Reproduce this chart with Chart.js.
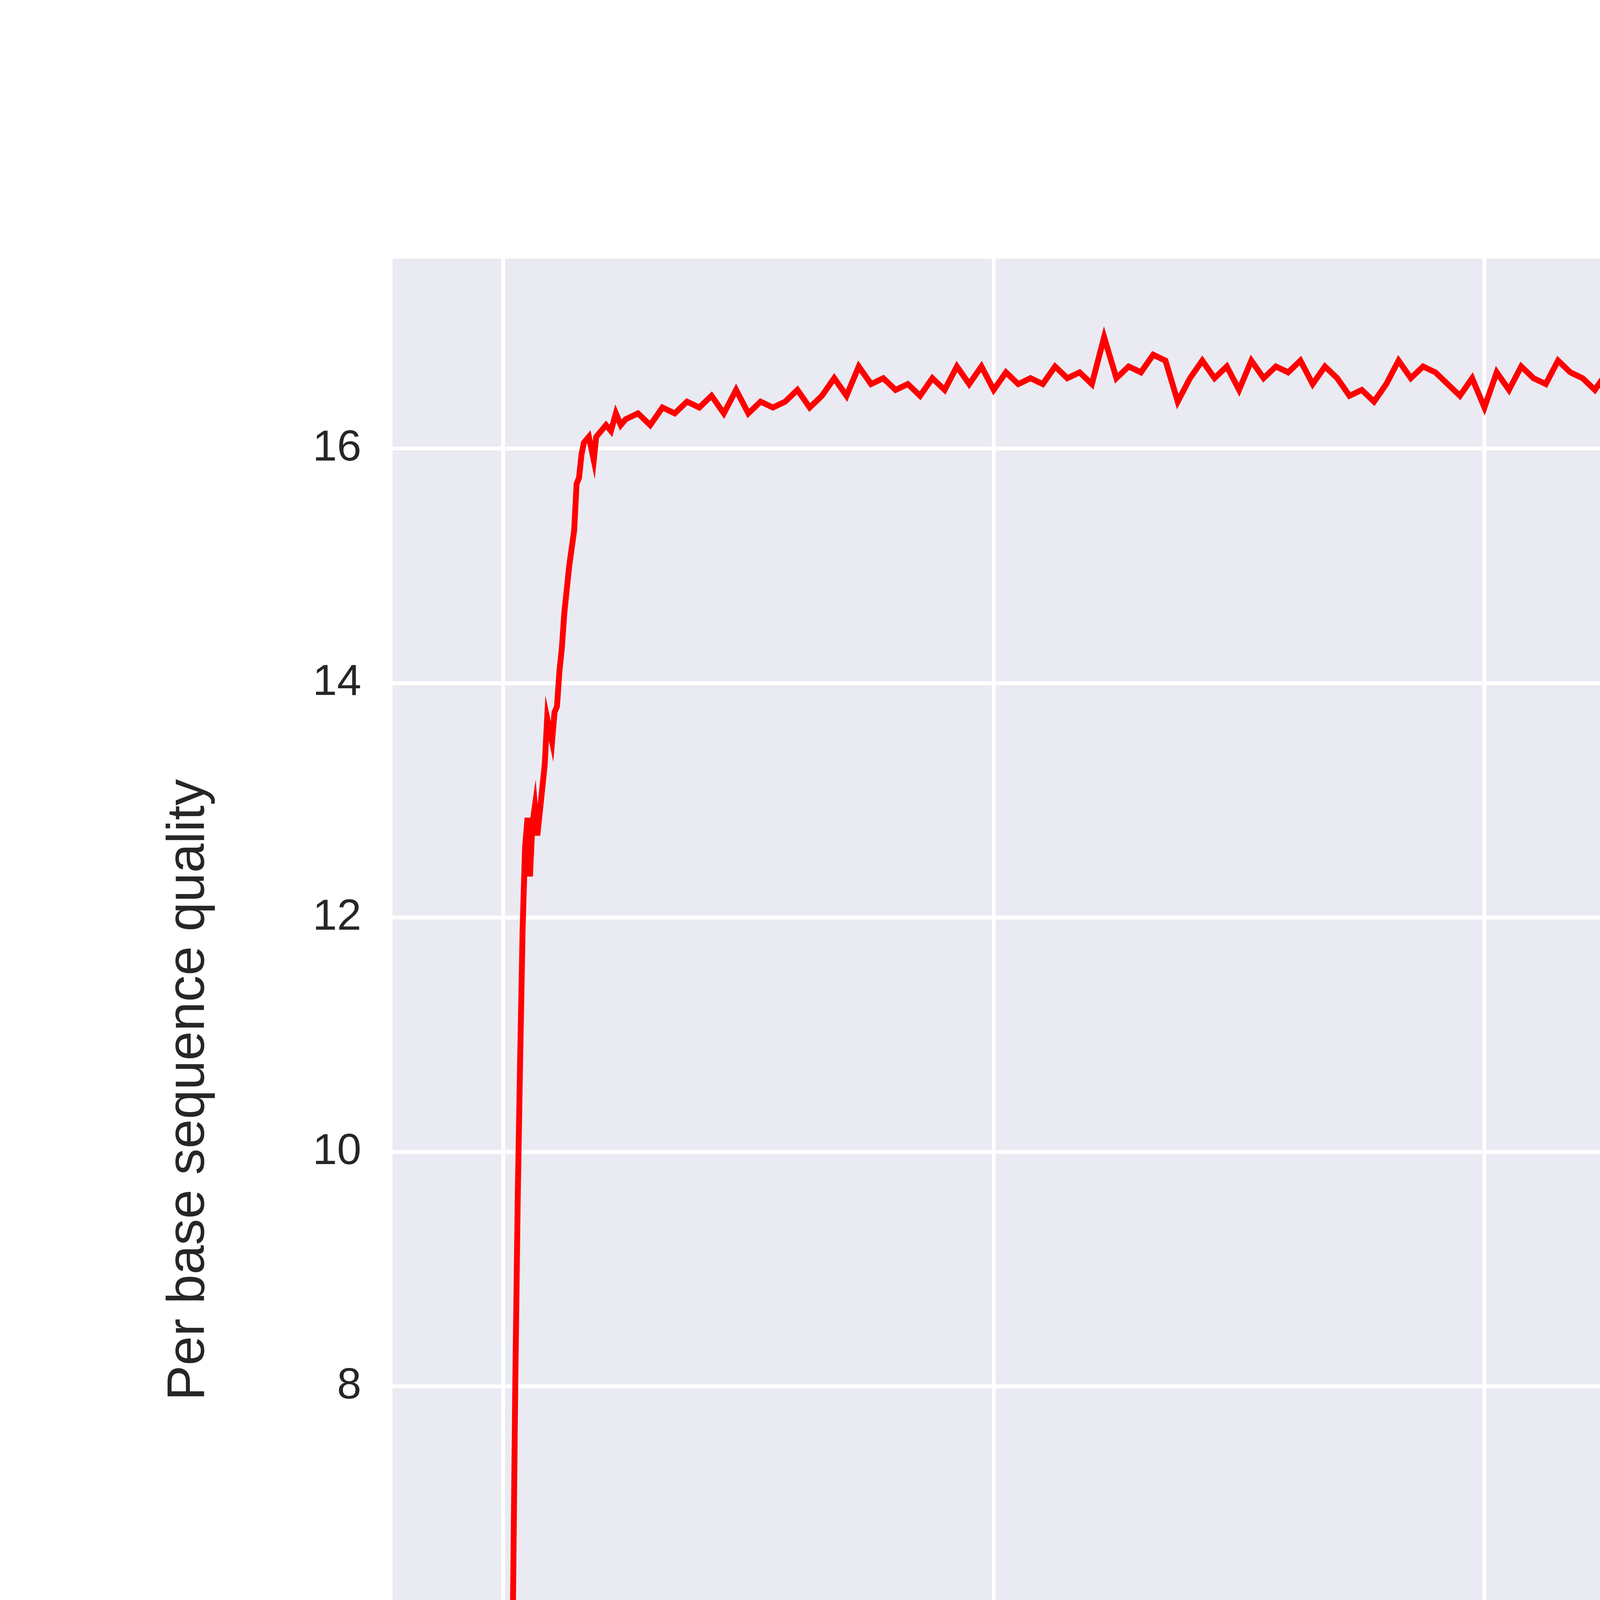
<!DOCTYPE html>
<html>
<head>
<meta charset="utf-8">
<script src="https://cdn.jsdelivr.net/npm/chart.js@4"></script>
<style>
  html, body { margin: 0; padding: 0; background: #fff; }
  #wrap { width: 8000px; height: 5500px; }
</style>
</head>
<body>
<div id="wrap"><canvas id="qualityChart"></canvas></div>
<script>
// position in read (x) and per base sequence quality (y)
const positions = [
    0, 1, 2, 3, 4, 5, 6, 7, 8, 9, 10, 11, 12, 13, 14, 15, 17, 18, 19, 20,
    21, 22, 23, 24, 25, 27, 29, 30, 31, 32, 33, 35, 37, 38, 40, 42, 44, 46, 48,
    50, 55, 60, 65, 70, 75, 80, 85, 90, 95,
    100, 105, 110, 115, 120, 125, 130, 135, 140, 145,
    150, 155, 160, 165, 170, 175, 180, 185, 190, 195,
    200, 205, 210, 215, 220, 225, 230, 235, 240, 245,
    250, 255, 260, 265, 270, 275, 280, 285, 290, 295,
    300, 305, 310, 315, 320, 325, 330, 335, 340, 345,
    350, 355, 360, 365, 370, 375, 380, 385, 390, 395,
    400, 405, 410, 415, 420, 425, 430, 435, 440, 445,
    450, 455, 460, 465, 470, 475, 480, 485, 490, 495,
    500, 505, 510, 515, 520, 525, 530, 535, 540, 545,
    550, 555, 560, 565, 570, 575, 580, 585, 590, 595,
    600, 605, 610, 615, 620, 625, 630, 635, 640, 645,
    650, 655, 660, 665, 670, 675, 680, 685, 690, 695,
    700, 705, 710, 715, 720, 725, 730, 735, 740, 745,
    750, 755, 760, 765, 770, 775, 780, 785, 790, 795,
    800, 805, 810, 815, 820, 825, 830, 835, 840, 845,
    850, 855, 860, 865, 870, 875, 880, 885, 890, 895,
    900
];
const quality = [
    4.1, 4.1, 4.9, 5.6, 6.0, 8.0, 9.6, 10.8, 11.9, 12.6, 12.85, 12.35, 12.8, 12.95, 12.7, 12.9, 13.3, 13.7, 13.6, 13.5,
    13.75, 13.8, 14.1, 14.3, 14.6, 15.0, 15.3, 15.7, 15.75, 15.95, 16.05, 16.1, 15.9, 16.1, 16.15, 16.2, 16.15, 16.3, 16.2,
    16.25, 16.3, 16.2, 16.35, 16.3, 16.4, 16.35, 16.45, 16.3, 16.5,
    16.3, 16.4, 16.35, 16.4, 16.5, 16.35, 16.45, 16.6, 16.45, 16.7,
    16.55, 16.6, 16.5, 16.55, 16.45, 16.6, 16.5, 16.7, 16.55, 16.7,
    16.5, 16.65, 16.55, 16.6, 16.55, 16.7, 16.6, 16.65, 16.55, 16.95,
    16.6, 16.7, 16.65, 16.8, 16.75, 16.4, 16.6, 16.75, 16.6, 16.7,
    16.5, 16.75, 16.6, 16.7, 16.65, 16.75, 16.55, 16.7, 16.6, 16.45,
    16.5, 16.4, 16.55, 16.75, 16.6, 16.7, 16.65, 16.55, 16.45, 16.6,
    16.35, 16.65, 16.5, 16.7, 16.6, 16.55, 16.75, 16.65, 16.6, 16.5,
    16.65, 16.45, 16.6, 16.5, 16.65, 16.45, 16.55, 16.75, 16.6, 16.65,
    16.55, 16.6, 16.4, 16.55, 16.6, 16.5, 16.7, 16.45, 16.75, 16.6,
    16.65, 16.6, 16.75, 16.7, 16.85, 16.6, 16.7, 16.5, 16.6, 16.55,
    16.7, 16.6, 16.75, 16.5, 16.65, 16.6, 16.7, 16.55, 16.6, 16.7,
    16.55, 16.6, 16.7, 16.55, 16.6, 16.55, 16.65, 16.6, 16.55, 16.65,
    16.6, 16.7, 16.6, 16.5, 16.55, 16.45, 16.6, 16.5, 16.7, 16.55,
    16.6, 16.5, 16.65, 16.55, 16.45, 16.6, 16.5, 16.55, 16.45, 16.6,
    16.55, 16.6, 16.45, 16.55, 16.5, 16.35, 16.6, 16.5, 16.4, 16.45,
    16.35, 16.4, 16.5, 16.45, 16.55, 16.5, 16.45, 16.6, 16.5, 16.45,
    16.3
];
const xTicks = [0, 200, 400, 600, 800];
const yTicks = [4, 6, 8, 10, 12, 14, 16];

const points = positions.map((p, i) => ({ x: p, y: quality[i] }));

const plotBackground = {
    id: 'plotBackground',
    beforeDraw(chart) {
        const { ctx, chartArea: a } = chart;
        ctx.save();
        ctx.fillStyle = '#EAEAF2';
        ctx.fillRect(a.left, a.top, a.right - a.left, a.bottom - a.top);
        ctx.restore();
    }
};

const tickFont = { family: 'Liberation Sans', size: 112 };
const titleFont = { family: 'Liberation Sans', size: 135 };

new Chart(document.getElementById('qualityChart'), {
    type: 'line',
    data: {
        datasets: [{
            data: points,
            borderColor: '#FF0000',
            borderWidth: 15,
            pointRadius: 0,
            tension: 0,
            fill: false
        }]
    },
    options: {
        responsive: true,
        maintainAspectRatio: false,
        devicePixelRatio: 1,
        animation: false,
        layout: { padding: { left: 400, right: 764, top: 662, bottom: 250 } },
        plugins: { legend: { display: false }, tooltip: { enabled: false } },
        scales: {
            x: {
                type: 'linear',
                min: -45,
                max: 947,
                afterBuildTicks: s => { s.ticks = xTicks.map(v => ({ value: v })); },
                afterFit: s => { s.height = 332; },
                grid: { color: '#FFFFFF', lineWidth: 10, drawTicks: false },
                border: { display: false },
                ticks: { color: '#262626', font: tickFont, padding: 60 },
                title: { display: true, text: 'Position in read', color: '#262626', font: titleFont, padding: { top: 20 } }
            },
            y: {
                min: 3.44,
                max: 17.62,
                afterBuildTicks: s => { s.ticks = yTicks.map(v => ({ value: v })); },
                afterFit: s => { s.width = 605; },
                grid: { color: '#FFFFFF', lineWidth: 10, drawTicks: false },
                border: { display: false },
                ticks: { color: '#262626', font: tickFont, padding: 80 },
                title: { display: true, text: 'Per base sequence quality', color: '#262626', font: titleFont, padding: { bottom: 40 } }
            }
        }
    },
    plugins: [plotBackground]
});
</script>
</body>
</html>
